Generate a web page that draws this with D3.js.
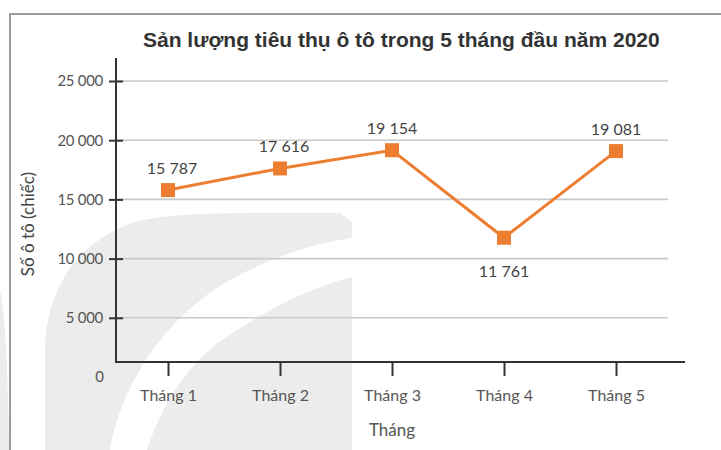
<!DOCTYPE html>
<html>
<head>
<meta charset="utf-8">
<script src="https://cdn.jsdelivr.net/npm/d3@7"></script>
<style>
  html, body { margin: 0; padding: 0; background: #fff; }
  svg { display: block; }
</style>
</head>
<body>
<svg id="chart" width="721" height="450"></svg>
<script>
// ---- data ----
const months = ["Tháng 1", "Tháng 2", "Tháng 3", "Tháng 4", "Tháng 5"];
const sales = [15787, 17616, 19154, 11761, 19081];
const yTicks = [5000, 10000, 15000, 20000, 25000];
const labelPlacement = ["above", "above", "above", "below", "above"];
const titleText = "Sản lượng tiêu thụ ô tô trong 5 tháng đầu năm 2020";
const yTitle = "Số ô tô (chiếc)";
const xTitle = "Tháng";

const svg = d3.select("#chart");
const fmt = v => d3.format(",")(v).replace(/,/g, " ");

// ---- decorative watermark ----
const wm = svg.append("g").attr("fill", "#ececec");
wm.append("path").attr("d",
  "M45,450 L45,345 C48,285 80,240 135,222 C175,212 230,213 340,213 L352,222 L352,450 Z");
wm.append("path").attr("d",
  "M0,290 C6,320 8,380 9,450 L0,450 Z");
svg.append("path").attr("fill", "#fff").attr("d",
  "M110,450 C120,390 160,320 230,280 C270,258 310,244 352,238 L352,277 C300,290 250,320 215,345 C180,375 160,410 147,450 Z");

// ---- frame ----
svg.append("path").attr("d", "M10,450 L10,14 L721,14")
  .attr("fill", "none").attr("stroke", "#9c9c9c").attr("stroke-width", 2);

// ---- scales ----
const y = d3.scaleLinear().domain([0, 25000]).range([377, 81]);
const x = d3.scalePoint().domain(months).range([168, 616]);
const plotLeft = 116, gridRight = 668, axisRight = 685, axisY = 362, axisTop = 58;

// gridlines
svg.append("g").selectAll("line").data(yTicks).join("line")
  .attr("x1", plotLeft).attr("x2", gridRight)
  .attr("y1", d => y(d)).attr("y2", d => y(d))
  .attr("stroke", "#c9c9c9").attr("stroke-width", 1.6);

// y axis
const yAxis = svg.append("g").attr("transform", `translate(${plotLeft},0)`)
  .call(d3.axisLeft(y).tickValues(yTicks).tickFormat(fmt).tickSize(7).tickPadding(6));
yAxis.select(".domain").remove();
yAxis.selectAll(".tick line").attr("x2", 7).attr("x1", -7)
  .attr("stroke", "#333").attr("stroke-width", 2);
yAxis.selectAll(".tick text").attr("font-family", "Lato, sans-serif")
  .attr("font-size", 15).attr("fill", "#555").attr("letter-spacing", "-0.3");
svg.append("line").attr("x1", plotLeft).attr("x2", plotLeft)
  .attr("y1", axisTop).attr("y2", axisY + 1)
  .attr("stroke", "#333").attr("stroke-width", 2);
svg.append("text").attr("x", 104).attr("y", y(0)).attr("dy", "0.35em")
  .attr("text-anchor", "end").attr("font-family", "Lato, sans-serif")
  .attr("font-size", 15).attr("fill", "#555").text(fmt(0));

// x axis
const xAxis = svg.append("g").attr("transform", `translate(0,${axisY})`)
  .call(d3.axisBottom(x).tickSize(14).tickPadding(14));
xAxis.select(".domain").remove();
xAxis.selectAll(".tick line").attr("stroke", "#333").attr("stroke-width", 2);
xAxis.selectAll(".tick text").attr("font-family", "Lato, sans-serif")
  .attr("font-size", 16).attr("fill", "#555");
svg.append("line").attr("x1", plotLeft - 1).attr("x2", axisRight)
  .attr("y1", axisY).attr("y2", axisY)
  .attr("stroke", "#333").attr("stroke-width", 2);

// line + markers
const pts = months.map((m, i) => ({ m, v: sales[i], p: labelPlacement[i] }));
svg.append("path").datum(pts)
  .attr("d", d3.line().x(d => x(d.m)).y(d => y(d.v)))
  .attr("fill", "none").attr("stroke", "#ED7D31").attr("stroke-width", 3);
svg.append("g").selectAll("rect").data(pts).join("rect")
  .attr("x", d => x(d.m) - 7).attr("y", d => y(d.v) - 7)
  .attr("width", 14).attr("height", 14).attr("fill", "#ED7D31");

// data labels
svg.append("g").selectAll("text").data(pts).join("text")
  .attr("x", d => x(d.m) + (d.p === "above" && x(d.m) < 300 ? 4 : 0))
  .attr("y", d => d.p === "above" ? y(d.v) - 22 : y(d.v) + 34)
  .attr("dy", "0.35em").attr("text-anchor", "middle")
  .attr("font-family", "Lato, sans-serif").attr("font-size", 16)
  .attr("fill", "#444").text(d => fmt(d.v));

// titles
svg.append("text").attr("x", 143).attr("y", 47).attr("text-anchor", "start")
  .attr("font-family", "'Liberation Sans', Arial, sans-serif").attr("font-weight", "bold")
  .attr("font-size", 21).attr("fill", "#333").text(titleText);
svg.append("text").attr("transform", "translate(34,224) rotate(-90)")
  .attr("text-anchor", "middle").attr("font-family", "Lato, sans-serif")
  .attr("font-size", 17).attr("fill", "#444").text(yTitle);
svg.append("text").attr("x", 392).attr("y", 430).attr("dy", "0.35em")
  .attr("text-anchor", "middle").attr("font-family", "Lato, sans-serif")
  .attr("font-size", 17).attr("fill", "#555").text(xTitle);
</script>
</body>
</html>
